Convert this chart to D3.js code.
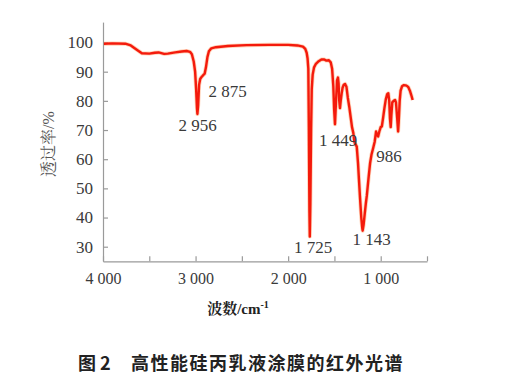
<!DOCTYPE html>
<html>
<head>
<meta charset="utf-8">
<script src="https://cdn.jsdelivr.net/npm/d3@7"></script>
<style>
  body { margin: 0; background: #fff; }
  svg { display: block; }
</style>
</head>
<body>
<svg id="chart" width="508" height="375"></svg>
<script>
// wavenumber (cm-1) and transmittance (%)
var wavenumbers = [3990, 3900, 3760, 3700, 3620, 3580, 3500, 3440, 3400, 3340, 3300, 3220, 3150, 3097, 3060, 3040,
  3020, 3005, 2994, 2985, 2980, 2972, 2962, 2950, 2935, 2918, 2902, 2888, 2872, 2856, 2830, 2780, 2650, 2450, 2200,
  2000, 1900, 1840, 1815, 1800, 1790, 1782, 1776, 1770, 1766, 1760, 1752, 1745, 1735, 1720, 1700, 1670, 1640, 1610,
  1590, 1560, 1540, 1525, 1512, 1503, 1494, 1484, 1472, 1462, 1455, 1448, 1440, 1432, 1422, 1412, 1400, 1385, 1370,
  1355, 1340, 1325, 1310, 1296, 1285, 1270, 1259, 1245, 1235, 1224, 1210, 1200, 1195, 1185, 1172, 1160, 1150, 1130,
  1115, 1100, 1080, 1065, 1050, 1040, 1028, 1015, 1000, 988, 975, 960, 945, 930, 918, 908, 900, 892, 885, 875, 860,
  845, 835, 822, 812, 805, 795, 785, 770, 750, 730, 715, 700, 685, 670, 655];
var transmittance = [99.6, 99.7, 99.6, 99.0, 97.2, 96.3, 96.2, 96.5, 96.6, 96.1, 96.2, 96.6, 96.9, 97.1, 96.8, 96.0,
  93.5, 90.0, 84.0, 77.5, 75.5, 78.5, 85.5, 87.5, 88.2, 88.8, 89.3, 91.5, 95.0, 97.0, 98.0, 98.4, 98.8, 99.1, 99.2,
  99.2, 99.0, 98.6, 97.8, 96.5, 94.5, 91.0, 70.0, 42.0, 33.5, 45.0, 70.0, 84.0, 89.0, 91.5, 92.7, 93.6, 94.2, 94.2,
  93.8, 93.9, 93.2, 91.0, 85.0, 77.0, 72.0, 79.0, 87.0, 88.0, 86.0, 80.0, 77.5, 80.0, 82.5, 84.5, 85.5, 85.8, 84.8,
  81.0, 78.0, 74.5, 71.0, 69.0, 66.0, 65.0, 64.3, 58.6, 53.0, 47.0, 40.0, 36.5, 35.5, 37.5, 41.5, 45.0, 47.5, 54.0,
  58.6, 61.5, 64.0, 66.0, 69.5, 68.5, 67.8, 69.5, 71.0, 71.2, 74.0, 77.5, 80.5, 82.3, 82.6, 80.0, 74.0, 71.0, 75.0,
  79.5, 80.0, 80.3, 79.5, 74.0, 69.5, 73.0, 80.0, 83.5, 85.0, 85.4, 85.3, 85.1, 84.6, 83.5, 82.0, 80.3];

var xTicks = [4000, 3500, 3000, 2500, 2000, 1500, 1000, 500];
var yTicks = [30, 40, 50, 60, 70, 80, 90, 100];

// peak annotations: label text and where the text sits (data units)
var peakLabels = ["2 956", "2 875", "1 725", "1 449", "1 143", "986"];
var peakAnchorW = [2979, 2655, 1731, 1461, 1097, 911];
var peakAnchorT = [69.5, 81.3, 27.8, 64.5, 30.6, 59.1];

var SERIF = "'Liberation Serif', 'Times New Roman', serif";
var SONG = "'Liberation Serif', 'Noto Serif CJK SC', serif";
var HEI = "'Noto Sans CJK SC', sans-serif";

var svg = d3.select("#chart");

var x = d3.scaleLinear().domain([4000, 500]).range([103, 427]);
var y = d3.scaleLinear().domain([25, 107]).range([261.3, 22.1]);

var fmt = function (d) { return d % 1000 === 0 ? d3.format(",")(d).replace(",", " ") : ""; };

// x axis, ticks pointing up into the plot
var gx = svg.append("g")
  .attr("transform", "translate(0," + y(25) + ")")
  .call(d3.axisBottom(x).tickValues(xTicks).tickSize(-5).tickSizeOuter(0).tickPadding(11).tickFormat(fmt));

// y axis, ticks pointing right
var gy = svg.append("g")
  .attr("transform", "translate(" + x(4000) + ",0)")
  .call(d3.axisLeft(y).tickValues(yTicks).tickSize(-5).tickSizeOuter(0).tickPadding(10));

[gx, gy].forEach(function (g) {
  g.attr("font-family", null);
  g.select(".domain").attr("stroke", "#9a9a9a").attr("stroke-width", 1.2);
  g.selectAll(".tick line").attr("stroke", "#9a9a9a").attr("stroke-width", 1.2);
  g.selectAll(".tick text").style("font-family", SERIF).attr("fill", "#3a3a3a").attr("font-size", 17);
});
gx.selectAll(".tick text").attr("font-size", 16);

var pts = wavenumbers.map(function (w, i) { return [w, transmittance[i]]; });

var line = d3.line()
  .x(function (d) { return x(d[0]); })
  .y(function (d) { return y(d[1]); });

// soft halo under the trace
svg.append("path")
  .datum(pts)
  .attr("d", line)
  .attr("fill", "none")
  .attr("stroke", "#ff9a60")
  .attr("stroke-opacity", 0.45)
  .attr("stroke-width", 4)
  .attr("stroke-linejoin", "round");

svg.append("path")
  .datum(pts)
  .attr("d", line)
  .attr("fill", "none")
  .attr("stroke", "#f41a0c")
  .attr("stroke-width", 2.4)
  .attr("stroke-linejoin", "round");

// peak labels
svg.selectAll(".peak")
  .data(peakLabels)
  .enter().append("text")
  .attr("class", "peak")
  .attr("x", function (d, i) { return x(peakAnchorW[i]); })
  .attr("y", function (d, i) { return y(peakAnchorT[i]); })
  .attr("text-anchor", "middle")
  .style("font-family", SERIF)
  .attr("font-size", 17)
  .attr("fill", "#3a3a3a")
  .text(function (d) { return d; });

// axis titles
svg.append("text")
  .attr("transform", "translate(54,144) rotate(-90)")
  .attr("text-anchor", "middle")
  .style("font-family", SONG)
  .attr("font-size", 16)
  .attr("fill", "#555")
  .text("透过率/%");

var xt = svg.append("text")
  .attr("x", 238)
  .attr("y", 314)
  .attr("text-anchor", "middle")
  .style("font-family", SONG)
  .attr("font-size", 15)
  .attr("font-weight", "bold")
  .attr("fill", "#222");
xt.append("tspan").text("波数/cm");
xt.append("tspan").attr("dy", -6).attr("font-size", 10).text("-1");

// figure caption
svg.append("text")
  .attr("x", 78)
  .attr("y", 370)
  .style("font-family", HEI)
  .attr("font-size", 18)
  .attr("font-weight", "bold")
  .attr("fill", "#222")
  .text("图 2");

svg.append("text")
  .attr("x", 131)
  .attr("y", 370)
  .style("font-family", HEI)
  .attr("font-size", 18)
  .attr("font-weight", "bold")
  .attr("letter-spacing", 1.5)
  .attr("fill", "#222")
  .text("高性能硅丙乳液涂膜的红外光谱");
</script>
</body>
</html>
